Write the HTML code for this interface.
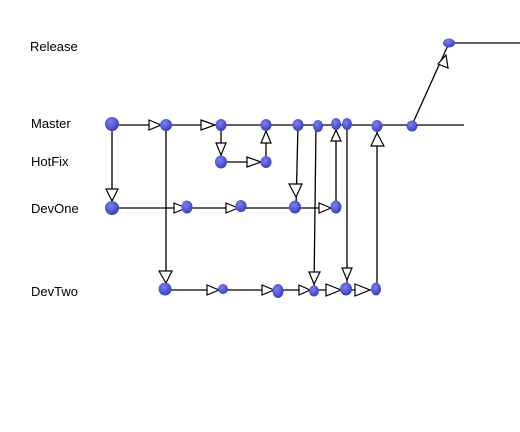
<!DOCTYPE html>
<html><head><meta charset="utf-8"><style>
html,body{margin:0;padding:0;background:#fff;width:520px;height:432px;overflow:hidden}
text{font-family:"Liberation Sans",sans-serif;font-size:13px;fill:#000}
</style></head><body>
<svg width="520" height="432" xmlns="http://www.w3.org/2000/svg">
<defs>
<radialGradient id="g" cx="40%" cy="35%" r="65%"><stop offset="0" stop-color="#7a80f0"/><stop offset="1" stop-color="#3a40c0"/></radialGradient>
</defs>
<text x="30" y="51">Release</text>
<text x="31" y="128">Master</text>
<text x="31" y="166">HotFix</text>
<text x="31" y="213">DevOne</text>
<text x="31" y="296">DevTwo</text>
<g stroke="#000" stroke-width="1.3" fill="none">
<line x1="112" y1="125" x2="464" y2="125"/>
<line x1="449" y1="43" x2="520" y2="43"/>
<line x1="412" y1="125" x2="449" y2="43"/>
<line x1="221" y1="162" x2="266" y2="162"/>
<line x1="112" y1="208" x2="336" y2="208"/>
<line x1="165" y1="290" x2="376" y2="290"/>
<line x1="112" y1="125" x2="112" y2="208"/>
<line x1="166" y1="125" x2="166" y2="290"/>
<line x1="221" y1="125" x2="221" y2="162"/>
<line x1="266" y1="125" x2="266" y2="162"/>
<line x1="298" y1="125" x2="296" y2="208"/>
<line x1="316" y1="125" x2="314" y2="290"/>
<line x1="336" y1="125" x2="336" y2="208"/>
<line x1="347" y1="125" x2="347" y2="290"/>
<line x1="377" y1="125" x2="377" y2="290"/>
</g>
<g stroke="#000" stroke-width="1.2" fill="#fff">
<!-- right arrows -->
<polygon points="149,120 161,125 149,130"/>
<polygon points="201,120 215,125 201,130"/>
<polygon points="174,203 186,208 174,213"/>
<polygon points="226,203 238,208 226,213"/>
<polygon points="319,203 331,208 319,213"/>
<polygon points="247,157 261,162 247,167"/>
<polygon points="207,285 219,290 207,295"/>
<polygon points="262,285 274,290 262,295"/>
<polygon points="299,285 310,290 299,295"/>
<polygon points="326,284 341,290 326,296"/>
<polygon points="355,284 370,290 355,296"/>
<!-- down arrows -->
<polygon points="106,189 118,189 112,201"/>
<polygon points="159,271 172,271 166,283"/>
<polygon points="216,143 226,143 221,155"/>
<polygon points="289,184 302,184 296,197"/>
<polygon points="309,272 320,272 314,284"/>
<polygon points="342,268 352,268 347,280"/>
<!-- up arrows -->
<polygon points="261,143 271,143 266,131"/>
<polygon points="331,141 341,141 336,130"/>
<polygon points="371,146 384,146 377,133"/>
<polygon points="438,64 448,68 446,55"/>
</g>
<g fill="url(#g)">
<ellipse cx="112" cy="124" rx="7" ry="7"/>
<ellipse cx="166" cy="125" rx="6" ry="6"/>
<ellipse cx="221" cy="125" rx="5.5" ry="6"/>
<ellipse cx="266" cy="125" rx="5.5" ry="6"/>
<ellipse cx="298" cy="125" rx="5.5" ry="6"/>
<ellipse cx="318" cy="126" rx="5" ry="6"/>
<ellipse cx="336" cy="124" rx="5" ry="6"/>
<ellipse cx="347" cy="124" rx="5" ry="6"/>
<ellipse cx="377" cy="126" rx="5.5" ry="6"/>
<ellipse cx="412" cy="126" rx="5.5" ry="5.5"/>
<ellipse cx="449" cy="43" rx="6" ry="4.5"/>
<ellipse cx="221" cy="162" rx="6" ry="6.5"/>
<ellipse cx="266" cy="162" rx="5.5" ry="6"/>
<ellipse cx="112" cy="208" rx="7" ry="7"/>
<ellipse cx="187" cy="207" rx="5.5" ry="6.5"/>
<ellipse cx="241" cy="206" rx="5.5" ry="6"/>
<ellipse cx="295" cy="207" rx="6" ry="6.5"/>
<ellipse cx="336" cy="207" rx="5.5" ry="6.5"/>
<ellipse cx="165" cy="289" rx="6.5" ry="6.5"/>
<ellipse cx="223" cy="289" rx="5" ry="5"/>
<ellipse cx="278" cy="291" rx="5.5" ry="7"/>
<ellipse cx="314" cy="291" rx="5" ry="5.5"/>
<ellipse cx="346" cy="289" rx="6" ry="6.5"/>
<ellipse cx="376" cy="289" rx="5" ry="6.5"/>
</g>
</svg>
</body></html>
